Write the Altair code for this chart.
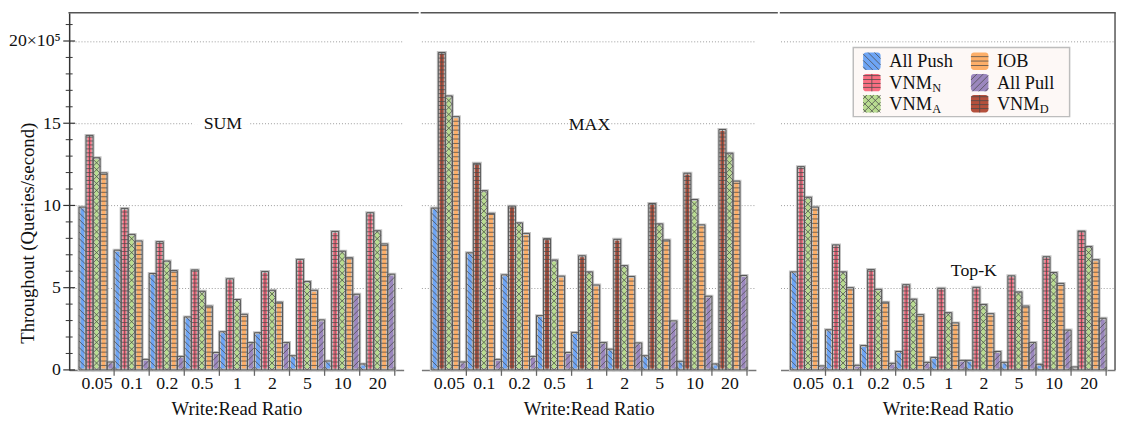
import json
import altair as alt
import pandas as pd

# ---------------- data (throughput, x10^5 queries/second) ----------------
CATEGORIES = ["0.05", "0.1", "0.2", "0.5", "1", "2", "5", "10", "20"]

SUM_ALL_PUSH = [9.9, 7.28, 5.86, 3.22, 2.32, 2.26, 0.86, 0.54, 0.36]
SUM_VNM_N = [14.26, 9.82, 7.8, 6.08, 5.54, 5.98, 6.72, 8.42, 9.56]
SUM_VNM_A = [12.9, 8.24, 6.62, 4.78, 4.28, 4.84, 5.38, 7.22, 8.46]
SUM_IOB = [11.98, 7.84, 6.04, 3.88, 3.38, 4.12, 4.84, 6.82, 7.66]
SUM_ALL_PULL = [0.48, 0.64, 0.82, 1.06, 1.66, 1.66, 3.04, 4.6, 5.82]

MAX_ALL_PUSH = [9.84, 7.12, 5.78, 3.3, 2.28, 1.26, 0.86, 0.52, 0.36]
MAX_VNM_D = [19.3, 12.56, 9.96, 7.98, 6.94, 7.94, 10.12, 11.96, 14.62]
MAX_VNM_A = [16.66, 10.9, 8.94, 6.68, 5.96, 6.34, 8.88, 10.36, 13.18]
MAX_IOB = [15.4, 9.52, 8.3, 5.7, 5.16, 5.68, 7.9, 8.82, 11.48]
MAX_ALL_PULL = [0.48, 0.64, 0.82, 1.06, 1.66, 1.64, 2.98, 4.48, 5.74]

TOPK_ALL_PUSH = [5.96, 2.44, 1.48, 1.12, 0.76, 0.58, 0.46, 0.34, 0.18]
TOPK_VNM_N = [12.36, 7.6, 6.1, 5.18, 4.96, 5.02, 5.72, 6.88, 8.44]
TOPK_VNM_A = [10.5, 5.96, 4.9, 4.3, 3.48, 3.98, 4.74, 5.92, 7.5]
TOPK_IOB = [9.9, 5.0, 4.12, 3.36, 2.86, 3.42, 3.88, 5.26, 6.7]
TOPK_ALL_PULL = [0.24, 0.28, 0.4, 0.46, 0.58, 1.12, 1.66, 2.42, 3.14]

PANELS = [
    ("SUM", [("All Push", SUM_ALL_PUSH), ("VNM_N", SUM_VNM_N), ("VNM_A", SUM_VNM_A),
             ("IOB", SUM_IOB), ("All Pull", SUM_ALL_PULL)]),
    ("MAX", [("All Push", MAX_ALL_PUSH), ("VNM_D", MAX_VNM_D), ("VNM_A", MAX_VNM_A),
             ("IOB", MAX_IOB), ("All Pull", MAX_ALL_PULL)]),
    ("Top-K", [("All Push", TOPK_ALL_PUSH), ("VNM_N", TOPK_VNM_N), ("VNM_A", TOPK_VNM_A),
               ("IOB", TOPK_IOB), ("All Pull", TOPK_ALL_PULL)]),
]

LEGEND_ORDER = ["All Push", "VNM_N", "VNM_A", "IOB", "All Pull", "VNM_D"]
LEGEND_MAIN = {"All Push": "All Push", "VNM_N": "VNM", "VNM_A": "VNM", "IOB": "IOB",
               "All Pull": "All Pull", "VNM_D": "VNM"}
LEGEND_SUB = {"All Push": "", "VNM_N": "N", "VNM_A": "A", "IOB": "", "All Pull": "", "VNM_D": "D"}

# ---------------- styles ----------------
STYLE = {
    "All Push": ("#6ea5f5", "back"),
    "VNM_N": ("#fa6e82", "grid"),
    "VNM_A": ("#b9dc91", "cross"),
    "IOB": ("#fdaf69", "hline"),
    "All Pull": ("#9b87be", "fwd"),
    "VNM_D": ("#b4503c", "grid"),
}
FONT = "Liberation Serif"
W, H = 339, 362
XS = 35.56          # px per category unit
YS = 16.667         # px per 1e5
XMIN = -0.5 - 10 / XS
XMAX = 8.5 + 9 / XS
YMAX = H / YS
BAR_W = 0.2
GAPS = [14.5, 21.5, 0]

xscale = alt.Scale(domain=[XMIN, XMAX], nice=False, zero=False)
yscale = alt.Scale(domain=[0, YMAX], nice=False, zero=False)


def hatch(x0, x1, y0, y1, pattern):
    wp = (x1 - x0) * XS
    hp = (y1 - y0) * YS
    segs = []
    if pattern in ("hline", "grid"):
        step = 4.5 if pattern == "hline" else 4.0
        yy = step
        while yy < hp - 0.6:
            segs.append((0, yy, wp, yy))
            yy += step
    if pattern == "grid":
        segs.append((wp / 2, 0, wp / 2, hp))
    if pattern in ("back", "cross"):
        step = 6.5 if pattern == "back" else 7.0
        c = step / 2
        while c < hp + wp:
            xa, xb = max(0, c - hp), min(wp, c)
            if xb - xa > 0.3:
                segs.append((xa, c - xa, xb, c - xb))
            c += step
    if pattern in ("fwd", "cross"):
        step = 6.5 if pattern == "fwd" else 7.0
        c = -wp + step / 2
        while c < hp:
            xa, xb = max(0, -c), min(wp, hp - c)
            if xb - xa > 0.3:
                segs.append((xa, xa + c, xb, xb + c))
            c += step
    return [dict(hx0=x0 + a / XS, hy0=y0 + b / YS, hx1=x0 + e / XS, hy1=y0 + d / YS)
            for a, b, e, d in segs]


label_expr = json.dumps(CATEGORIES) + "[datum.value]"
XAXIS = alt.Axis(values=list(range(9)), labelExpr=label_expr, ticks=False, grid=False,
                 domainColor="#777777", domainWidth=1.5, labelFontSize=18, labelPadding=5,
                 labelOverlap=False, labelFlush=False, labelColor="#111",
                 title="Write:Read Ratio", titleFontSize=19, titleFontWeight="normal",
                 titlePadding=7, titleColor="#111")
YAXIS_MAIN = alt.Axis(values=[0, 5, 10, 15, 20], grid=True, gridDash=[1, 2], gridColor="#9a9a9a",
                      labelExpr="datum.value == 20 ? '20×10⁵' : datum.label",
                      ticks=False, domainColor="#333333", domainWidth=1.5, labelPadding=9,
                      labelFontSize=18, labelColor="#111",
                      title="Throughout (Queries/second)", titleX=-42, titleY=223,
                      titleAngle=-90, titleAlign="center", titleBaseline="middle",
                      titleFontSize=19, titleFontWeight="normal", titleColor="#111")
YAXIS_OTHER = alt.Axis(values=[5, 10, 15, 20], grid=True, gridDash=[1, 2], gridColor="#9a9a9a",
                       labels=False, ticks=False, domain=False, title=None)

LABEL_POS = {"SUM": (3.60, 14.66), "MAX": (4.01, 14.6), "Top-K": (4.73, 5.7)}
SUM_GAP = (2.734, 4.374)   # gridline break behind the SUM label

panels = []
for pi, (pname, series) in enumerate(PANELS):
    yaxis = YAXIS_MAIN if pi == 0 else YAXIS_OTHER

    def X(f):
        return alt.X(f, scale=xscale, axis=XAXIS)

    def Y(f):
        return alt.Y(f, scale=yscale, axis=yaxis)

    def bar_layers(rects, with_halo=True, radius=0):
        df = pd.DataFrame(rects)
        hrows = []
        for r in rects:
            hrows += hatch(r["x0"], r["x1"], r["y0"], r["y1"], r["pattern"])
        hdf = pd.DataFrame(hrows)
        out = []
        enc = dict(x=X("x0:Q"), x2="x1:Q", y=Y("y0:Q"), y2="y1:Q")
        if with_halo:
            out.append(alt.Chart(df).mark_rect(stroke="#c4c4c4", strokeWidth=3).encode(
                fill=alt.Fill("color:N", scale=None), **enc))
        else:
            out.append(alt.Chart(df).mark_rect(cornerRadius=radius).encode(
                fill=alt.Fill("color:N", scale=None), **enc))
        out.append(alt.Chart(hdf).mark_rule(color="#4a4a4a", strokeWidth=0.9, opacity=0.85).encode(
            x=X("hx0:Q"), x2="hx1:Q", y=Y("hy0:Q"), y2="hy1:Q"))
        if with_halo:
            out.append(alt.Chart(df).mark_rect(fillOpacity=0, stroke="#555555", strokeWidth=1).encode(**enc))
        return out

    rects = []
    for j, (sname, vals) in enumerate(series):
        color, pat = STYLE[sname]
        for g, v in enumerate(vals):
            x0 = g - 0.5 + j * BAR_W
            rects.append(dict(series=sname, cat=CATEGORIES[g], value=v, color=color, pattern=pat,
                              x0=x0, x1=x0 + BAR_W, y0=0.0, y1=v))
    layers = bar_layers(rects)

    # x ticks at group boundaries
    tick_df = pd.DataFrame({"tx": [g + 0.5 for g in range(len(CATEGORIES))]})
    layers.append(alt.Chart(tick_df).mark_rule(color="#666666", strokeWidth=1.3).encode(
        x=X("tx:Q"), y=alt.value(H - 3), y2=alt.value(H + 6)))

    # frame top (extends across the gap to the next panel)
    layers.append(alt.Chart(pd.DataFrame({"k": [0]})).mark_rule(
        color="#555555", strokeWidth=1.5, strokeCap="square").encode(
        x=alt.value(0), x2=alt.value(W + GAPS[pi]), y=alt.value(0)))
    if pi == 2:
        layers.append(alt.Chart(pd.DataFrame({"k": [0]})).mark_rule(color="#555555", strokeWidth=1.5).encode(
            x=alt.value(W), y=alt.value(0), y2=alt.value(H)))

    if pi == 0:
        yt = list(range(0, 22))
        minor = pd.DataFrame({"ty": [t for t in yt if t % 5]})
        major = pd.DataFrame({"ty": [t for t in yt if t % 5 == 0]})
        layers.append(alt.Chart(minor).mark_rule(color="#333333", strokeWidth=1).encode(
            y=Y("ty:Q"), x=alt.value(-3.5), x2=alt.value(3.5)))
        layers.append(alt.Chart(major).mark_rule(color="#333333", strokeWidth=1.2).encode(
            y=Y("ty:Q"), x=alt.value(-6), x2=alt.value(6)))
        # white break in the gridline behind the SUM label
        layers.append(alt.Chart(pd.DataFrame({"a": [SUM_GAP[0]], "b": [SUM_GAP[1]], "gy": [15]})).mark_rule(
            color="white", strokeWidth=3).encode(x=X("a:Q"), x2="b:Q", y=Y("gy:Q")))

    # panel label
    lx, ly = LABEL_POS[pname]
    layers.append(alt.Chart(pd.DataFrame({"t": [pname], "tx": [lx], "ty": [ly]})).mark_text(
        font=FONT, fontSize=18, color="#111", baseline="alphabetic", align="center").encode(
        x=X("tx:Q"), y=Y("ty:Q"), text="t:N"))

    if pi == 2:
        # legend, laid out in pixels relative to the plot area then mapped to data units
        px2x = lambda px: XMIN + px / XS
        py2y = lambda py: YMAX - py / YS
        box = pd.DataFrame([dict(x0=px2x(73.7), x1=px2x(293), y0=py2y(105.3), y1=py2y(35.3))])
        layers.append(alt.Chart(box).mark_rect(fill="#fdf8f6", stroke="#bdbdbd", strokeWidth=1.5).encode(
            x=X("x0:Q"), x2="x1:Q", y=Y("y0:Q"), y2="y1:Q"))
        col_sw = [83.7, 193.0]
        col_tx = [110.3, 219.3]
        row_top = [40.3, 62.0, 83.4]
        row_base = [55.3, 77.0, 98.7]
        sw = 17.7
        sw_rects, labels = [], []
        for k, name in enumerate(LEGEND_ORDER):
            c, r = k // 3, k % 3
            color, pat = STYLE[name]
            sw_rects.append(dict(series=name, color=color, pattern=pat,
                                 x0=px2x(col_sw[c]), x1=px2x(col_sw[c] + sw),
                                 y0=py2y(row_top[r] + sw), y1=py2y(row_top[r])))
            labels.append(dict(main=LEGEND_MAIN[name], sub=LEGEND_SUB[name],
                               lx=px2x(col_tx[c]), ly=py2y(row_base[r])))
        layers += bar_layers(sw_rects, with_halo=False, radius=3)
        ldf = pd.DataFrame(labels)
        layers.append(alt.Chart(ldf).mark_text(font=FONT, fontSize=18.5, color="#111", align="left",
                                               baseline="alphabetic").encode(
            x=X("lx:Q"), y=Y("ly:Q"), text="main:N"))
        layers.append(alt.Chart(ldf).mark_text(font=FONT, fontSize=12.5, color="#111", align="left",
                                               baseline="alphabetic", dx=43.5, dy=3).encode(
            x=X("lx:Q"), y=Y("ly:Q"), text="sub:N"))

    panels.append(alt.layer(*layers).properties(width=W, height=H))

chart = alt.hconcat(*panels, spacing=0).properties(
    padding=0
).configure_view(stroke=None).configure_axis(labelFont=FONT, titleFont=FONT)

chart.save("out.html", embed_options={"renderer": "svg", "actions": False})
